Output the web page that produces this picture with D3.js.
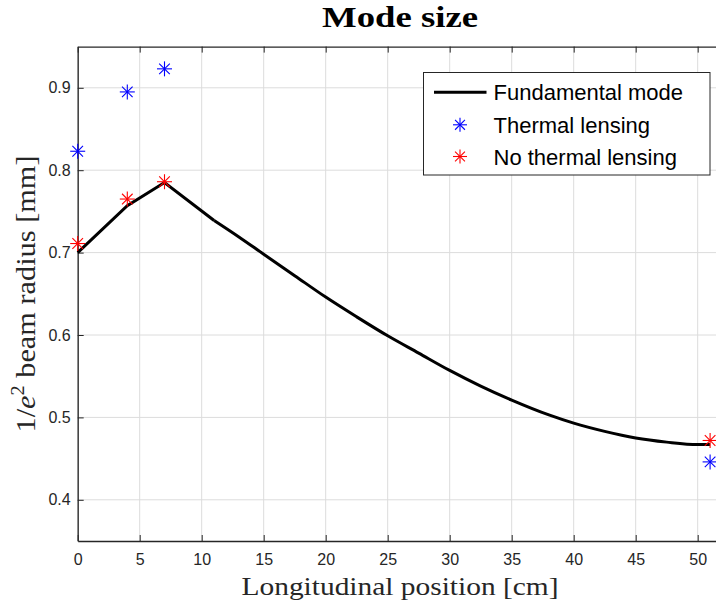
<!DOCTYPE html>
<html>
<head>
<meta charset="utf-8">
<script src="https://cdn.jsdelivr.net/npm/d3@7"></script>
<style>
  body { margin: 0; background: #fff; }
  .grid line { stroke: #dcdcdc; stroke-width: 1; }
</style>
</head>
<body>
<div id="chart"></div>
<script>
// data
const fitX = [0, 4, 7, 11];
const fitY = [0.700, 0.757, 0.785, 0.739];
const propX = [11, 13, 15, 17.5, 20, 22.5, 25, 27.5, 30, 32.5, 35, 38, 40, 42.5, 45, 47.5, 50, 51];
const propY = [0.739, 0.719, 0.698, 0.672, 0.646, 0.622, 0.599, 0.578, 0.557, 0.538, 0.521, 0.503, 0.493, 0.483, 0.475, 0.470, 0.467, 0.467];
const measX = [0, 4, 7, 51];
const thermalY = [0.823, 0.895, 0.923, 0.446];
const noThermalY = [0.711, 0.765, 0.786, 0.472];
const xTicks = [0, 5, 10, 15, 20, 25, 30, 35, 40, 45, 50];
const yTicks = [0.4, 0.5, 0.6, 0.7, 0.8, 0.9];
const legendLabels = ["Fundamental mode", "Thermal lensing", "No thermal lensing"];

const width = 716, height = 604,
  margin = { top: 46.6, left: 77.7, bottom: 63, right: -6.5 },
  axisColor = "#262626";

const xScale = d3.scaleLinear().domain([0, 52]).range([margin.left, width - margin.right]);
const yScale = d3.scaleLinear().domain([0.35, 0.95]).range([height - margin.bottom, margin.top]);

const svg = d3.select("#chart").append("svg")
  .attr("width", width).attr("height", height);

// grid
svg.append("g").attr("class", "grid")
  .selectAll("line").data(xTicks).join("line")
  .attr("x1", d => xScale(d)).attr("x2", d => xScale(d))
  .attr("y1", yScale.range()[0]).attr("y2", yScale.range()[1]);
svg.append("g").attr("class", "grid")
  .selectAll("line").data(yTicks).join("line")
  .attr("x1", xScale.range()[0]).attr("x2", xScale.range()[1])
  .attr("y1", d => yScale(d)).attr("y2", d => yScale(d));

// axes (ticks inside, box on)
const xAxis = d3.axisBottom(xScale).tickValues(xTicks).tickSizeInner(-6).tickSizeOuter(0).tickPadding(13);
const yAxis = d3.axisLeft(yScale).tickValues(yTicks).tickFormat(d3.format(".1f")).tickSizeInner(-6).tickSizeOuter(0).tickPadding(7);
const xTop = d3.axisTop(xScale).tickValues(xTicks).tickSizeInner(-6).tickSizeOuter(0).tickFormat("");

const gx = svg.append("g").attr("transform", `translate(0,${yScale.range()[0]})`).call(xAxis);
const gy = svg.append("g").attr("transform", `translate(${xScale.range()[0]},0)`).call(yAxis);
const gt = svg.append("g").attr("transform", `translate(0,${yScale.range()[1]})`).call(xTop);
[gx, gy, gt].forEach(g => {
  g.attr("font-family", "Liberation Sans, Arial, sans-serif").attr("font-size", 16);
  g.select(".domain").attr("stroke", axisColor).attr("stroke-width", 1.3);
  g.selectAll(".tick line").attr("stroke", axisColor);
  g.selectAll(".tick text").attr("fill", axisColor);
});

// fundamental mode curve
const line = d3.line().x(d => xScale(d[0])).y(d => yScale(d[1]));
svg.append("path")
  .datum(fitX.map((x, i) => [x, fitY[i]]))
  .attr("d", line.curve(d3.curveLinear))
  .attr("fill", "none").attr("stroke", "#000").attr("stroke-width", 3);
svg.append("path")
  .datum(propX.map((x, i) => [x, propY[i]]))
  .attr("d", line.curve(d3.curveMonotoneX))
  .attr("fill", "none").attr("stroke", "#000").attr("stroke-width", 3);

// asterisk marker
function star(g, cx, cy, color, r) {
  const s = g.append("g").attr("transform", `translate(${cx},${cy})`)
    .attr("stroke", color).attr("stroke-width", 1.1);
  [0, 45, 90, 135].forEach(a => {
    const rad = a * Math.PI / 180;
    s.append("line")
      .attr("x1", -r * Math.cos(rad)).attr("y1", -r * Math.sin(rad))
      .attr("x2", r * Math.cos(rad)).attr("y2", r * Math.sin(rad));
  });
}
const marks = svg.append("g");
measX.forEach((x, i) => star(marks, xScale(x), yScale(thermalY[i]), "#0000ff", 7.5));
measX.forEach((x, i) => star(marks, xScale(x), yScale(noThermalY[i]), "#ff0000", 7.5));

// legend
const leg = svg.append("g").attr("transform", "translate(423.5,72.5)");
leg.append("rect").attr("width", 286.5).attr("height", 102.5)
  .attr("fill", "#fff").attr("stroke", axisColor).attr("stroke-width", 1);
const rowY = [19.8, 52.3, 84];
leg.append("line").attr("x1", 10.5).attr("x2", 63).attr("y1", rowY[0]).attr("y2", rowY[0])
  .attr("stroke", "#000").attr("stroke-width", 3);
star(leg, 36.5, rowY[1], "#0000ff", 7);
star(leg, 36.5, rowY[2], "#ff0000", 7);
leg.selectAll("text.lab").data(legendLabels).join("text")
  .attr("x", 70).attr("y", (d, i) => rowY[i] + 8)
  .attr("font-family", "Liberation Sans, Arial, sans-serif")
  .attr("font-size", 22).attr("fill", "#000")
  .text(d => d);

// title
svg.append("text")
  .attr("x", 400).attr("y", 27)
  .attr("text-anchor", "middle")
  .attr("font-family", "Liberation Serif, serif")
  .attr("font-weight", "bold").attr("font-size", 29)
  .attr("textLength", 156).attr("lengthAdjust", "spacingAndGlyphs")
  .text("Mode size");

// x label
svg.append("text")
  .attr("x", 400).attr("y", 595)
  .attr("text-anchor", "middle")
  .attr("font-family", "Liberation Serif, serif")
  .attr("font-size", 26).attr("fill", "#262626")
  .attr("textLength", 317).attr("lengthAdjust", "spacingAndGlyphs")
  .text("Longitudinal position [cm]");

// y label
const yl = svg.append("text")
  .attr("transform", "translate(35,294) rotate(-90)")
  .attr("text-anchor", "middle")
  .attr("font-family", "Liberation Serif, serif")
  .attr("font-size", 27).attr("fill", "#262626")
  .attr("textLength", 277).attr("lengthAdjust", "spacingAndGlyphs");
yl.append("tspan").text("1/");
yl.append("tspan").attr("font-style", "italic").text("e");
yl.append("tspan").attr("font-size", 18).attr("dy", -11).text("2");
yl.append("tspan").attr("dy", 11).text(" beam radius [mm]");
</script>
</body>
</html>
